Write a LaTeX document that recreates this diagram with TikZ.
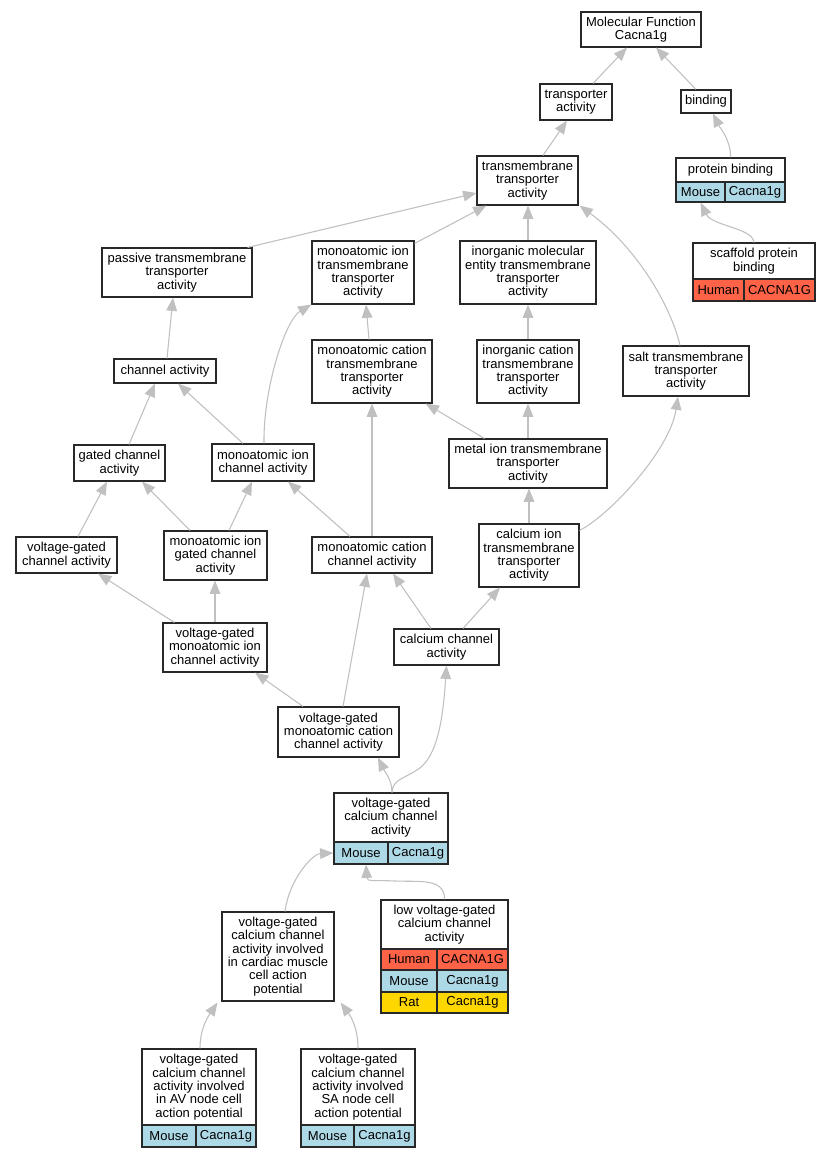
\documentclass[tikz,border=0pt]{standalone}
\usepackage{fontspec}
\setmainfont{Liberation Sans}
\usetikzlibrary{arrows.meta,calc}
\definecolor{edgegray}{RGB}{192,192,192}
\definecolor{boxline}{RGB}{40,40,40}
\definecolor{mouse}{RGB}{173,216,230}
\definecolor{human}{RGB}{255,99,71}
\definecolor{rat}{RGB}{255,215,0}
\begin{document}
\begin{tikzpicture}[x=0.75pt,y=-0.75pt,
  box/.style={draw=boxline, line width=0.85pt, fill=white, inner sep=0pt, align=center, font=\fontsize{9.75pt}{10pt}\selectfont},
  wh/.style 2 args={minimum width=#1*0.75pt, minimum height=#2*0.75pt},
  conn/.style={draw=edgegray, line width=0.8pt, -{Triangle[length=10pt,width=8pt]}}]
\fill[white] (0,0) rectangle (831,1157);
\useasboundingbox (0,0) rectangle (831,1157);
% nodes
\node[box, wh={120}{35}] (mf) at (641,29.5) {Molecular Function\\Cacna1g};
\node[box, wh={72}{36}] (ta) at (576,102) {transporter\\activity};
\node[box, wh={50}{23}] (bind) at (706,101.5) {binding};
\node[box, wh={109}{24}] (pb) at (730.5,170) {protein binding};
\node[box, fill=mouse, wh={49}{20}] (pbm) at (700.5,192) {Mouse};
\node[box, fill=mouse, wh={60}{20}] (pbg) at (755,192) {Cacna1g};
\node[box, wh={122}{36}] (sc) at (754,261) {scaffold protein\\binding};
\node[box, fill=human, wh={51}{22}] (sch) at (718.5,290) {Human};
\node[box, fill=human, wh={71}{22}] (scg) at (779.5,290) {CACNA1G};
\node[box, wh={101}{49}] (tmta) at (527.5,180.5) {transmembrane\\transporter\\activity};
\node[box, wh={150}{49}] (pas) at (177,272.5) {passive transmembrane\\transporter\\activity};
\node[box, wh={102}{63}] (mitta) at (363,272.5) {monoatomic ion\\transmembrane\\transporter\\activity};
\node[box, wh={136}{63}] (imetta) at (528,272.5) {inorganic molecular\\entity transmembrane\\transporter\\activity};
\node[box, wh={102}{24}] (chan) at (165,371) {channel activity};
\node[box, wh={120}{63}] (mctta) at (372,371.5) {monoatomic cation\\transmembrane\\transporter\\activity};
\node[box, wh={102}{63}] (icta) at (528,371.5) {inorganic cation\\transmembrane\\transporter\\activity};
\node[box, wh={126}{50}] (salt) at (686,371) {salt transmembrane\\transporter\\activity};
\node[box, wh={91}{36}] (gca) at (119.5,463) {gated channel\\activity};
\node[box, wh={102}{37}] (mica) at (263,462.5) {monoatomic ion\\channel activity};
\node[box, wh={158}{49}] (metal) at (528,463.5) {metal ion transmembrane\\transporter\\activity};
\node[box, wh={101}{36}] (vgca) at (66.5,555) {voltage-gated\\channel activity};
\node[box, wh={103}{49}] (migca) at (215.5,555.5) {monoatomic ion\\gated channel\\activity};
\node[box, wh={120}{36}] (mcca) at (372,555) {monoatomic cation\\channel activity};
\node[box, wh={100}{63}] (cita) at (529,555.5) {calcium ion\\transmembrane\\transporter\\activity};
\node[box, wh={104}{49}] (vgmica) at (215,647.5) {voltage-gated\\monoatomic ion\\channel activity};
\node[box, wh={105}{36}] (cca) at (446.5,647) {calcium channel\\activity};
\node[box, wh={121}{50}] (vgmcca) at (338.5,732) {voltage-gated\\monoatomic cation\\channel activity};
\node[box, wh={114}{49}] (vgcca) at (391,817.5) {voltage-gated\\calcium channel\\activity};
\node[box, fill=mouse, wh={54}{22}] (vgccam) at (361,853) {Mouse};
\node[box, fill=mouse, wh={60}{22}] (vgccag) at (418,853) {Cacna1g};
\node[box, wh={112}{89}] (card) at (278,956.5) {voltage-gated\\calcium channel\\activity involved\\in cardiac muscle\\cell action\\potential};
\node[box, wh={127}{49}] (low) at (444.5,924.5) {low voltage-gated\\calcium channel\\activity};
\node[box, fill=human, wh={56}{21}] (lowh) at (409,959.5) {Human};
\node[box, fill=human, wh={71}{21}] (lowhg) at (472.5,959.5) {CACNA1G};
\node[box, fill=mouse, wh={56}{22}] (lowm) at (409,981) {Mouse};
\node[box, fill=mouse, wh={71}{22}] (lowmg) at (472.5,981) {Cacna1g};
\node[box, fill=rat, wh={56}{21}] (lowr) at (409,1002.5) {Rat};
\node[box, fill=rat, wh={71}{21}] (lowrg) at (472.5,1002.5) {Cacna1g};
\node[box, wh={114}{76}] (av) at (199,1087) {voltage-gated\\calcium channel\\activity involved\\in AV node cell\\action potential};
\node[box, fill=mouse, wh={54}{22}] (avm) at (169,1136) {Mouse};
\node[box, fill=mouse, wh={60}{22}] (avg) at (226,1136) {Cacna1g};
\node[box, wh={114}{76}] (sa) at (358,1087) {voltage-gated\\calcium channel\\activity involved\\SA node cell\\action potential};
\node[box, fill=mouse, wh={53}{22}] (sam) at (327.5,1136) {Mouse};
\node[box, fill=mouse, wh={61}{22}] (sag) at (384.5,1136) {Cacna1g};
% connectors
\draw[conn] ($(ta.north)+(17,0)$) -- ($(mf.south)+(-14,0)$);
\draw[conn] ($(bind.north)+(-10,0)$) -- ($(mf.south)+(15,0)$);
\draw[conn] ($(tmta.north)+(15.5,0)$) -- ($(ta.south)+(-9,0)$);
\draw[conn] (pb.north) .. controls (731,140) and (720,128) .. ($(bind.south)+(7,0)$);
\draw[conn] (sc.north) .. controls (753,228) and (712,226) .. (pbm.south);
\draw[conn] ($(pas.north east)+(-5,0)$) -- ($(tmta.west)+(0,12.5)$);
\draw[conn] ($(mitta.north east)+(0,3)$) -- ($(tmta.south west)+(10,0)$);
\draw[conn] (imetta.north) -- (imetta.north |- tmta.south);
\draw[conn] ($(salt.north)+(-6,0)$) .. controls (672,310) and (640,250) .. ($(tmta.south east)+(1,0)$);
\draw[conn] ($(chan.north)+(2,0)$) -- ($(pas.south)+(-4,0)$);
\draw[conn] ($(mctta.north)+(-3,0)$) -- ($(mitta.south)+(3,0)$);
\draw[conn] (icta.north) -- (imetta.south);
\draw[conn] ($(gca.north)+(9.5,0)$) -- ($(chan.south)+(-10,0)$);
\draw[conn] ($(mica.north)+(-20,0)$) -- ($(chan.south)+(13,0)$);
\draw[conn] ($(mica.north)+(1,0)$) .. controls (263,390) and (285,320) .. (mitta.south west);
\draw[conn] ($(metal.north west)+(36,0)$) -- ($(mctta.south east)+(-7,0)$);
\draw[conn] (metal.north) -- (icta.south);
\draw[conn] ($(vgca.north)+(11.5,0)$) -- ($(gca.south)+(-12.5,0)$);
\draw[conn] ($(migca.north)+(-25.5,0)$) -- ($(gca.south)+(22.5,0)$);
\draw[conn] ($(migca.north)+(13.5,0)$) -- ($(mica.south)+(-11,0)$);
\draw[conn] ($(mcca.north)+(-22,0)$) -- ($(mica.south)+(25,0)$);
\draw[conn] (mcca.north) -- (mctta.south);
\draw[conn] (cita.north) -- (cita.north |- metal.south);
\draw[conn] ($(cita.north east)+(0,7)$) .. controls (610,515) and (670,450) .. ($(salt.south)+(-8,0)$);
\draw[conn] ($(vgmica.north west)+(12,0)$) -- ($(vgca.south)+(31.5,0)$);
\draw[conn] (vgmica.north) -- (vgmica.north |- migca.south);
\draw[conn] ($(cca.north)+(-15.5,0)$) -- ($(mcca.south)+(21,0)$);
\draw[conn] ($(cca.north)+(16.5,0)$) -- ($(cita.south)+(-29,0)$);
\draw[conn] ($(vgmcca.north)+(-35.5,0)$) -- ($(vgmica.south)+(40,0)$);
\draw[conn] ($(vgmcca.north)+(4.5,0)$) -- ($(mcca.south)+(-5,0)$);
\draw[conn] ($(vgcca.north)+(1,0)$) .. controls (392,780) and (385,772) .. ($(vgmcca.south)+(39.5,0)$);
\draw[conn] ($(vgcca.north)+(1,0)$) .. controls (392,780) and (405,778) .. (417,770) .. controls (437,758) and (443,720) .. (cca.south);
\draw[conn] ($(card.north)+(7,0)$) .. controls (289,880) and (312,854) .. (vgccam.west);
\draw[conn] (low.north) .. controls (445,878) and (420,882) .. (395,881) .. controls (375,880) and (367,882) .. ($(vgccam.south)+(5,0)$);
\draw[conn] ($(av.north)+(1,0)$) .. controls (200,1030) and (207,1018) .. ($(card.south west)+(-4,1)$);
\draw[conn] (sa.north) .. controls (358,1030) and (352,1018) .. ($(card.south east)+(6,1)$);
\end{tikzpicture}
\end{document}
